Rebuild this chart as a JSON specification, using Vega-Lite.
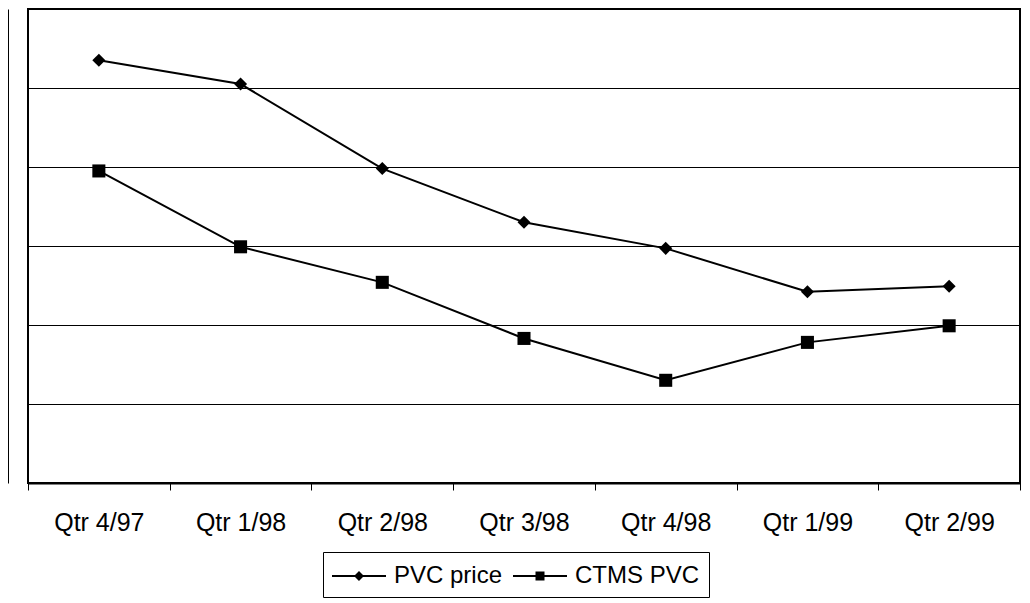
{
  "$schema": "https://vega.github.io/schema/vega-lite/v6.json",
  "width": 992,
  "height": 474,
  "autosize": {"type": "none"},
  "padding": {"left": 28, "top": 9, "right": 10, "bottom": 120},
  "background": "white",
  "config": {
    "view": {"stroke": "black", "strokeWidth": 2},
    "font": "Liberation Sans"
  },
  "data": {
    "values": [
      {"quarter": "Qtr 4/97", "series": "PVC price", "value": 53.5},
      {"quarter": "Qtr 1/98", "series": "PVC price", "value": 50.5},
      {"quarter": "Qtr 2/98", "series": "PVC price", "value": 39.8},
      {"quarter": "Qtr 3/98", "series": "PVC price", "value": 33.0},
      {"quarter": "Qtr 4/98", "series": "PVC price", "value": 29.7},
      {"quarter": "Qtr 1/99", "series": "PVC price", "value": 24.2},
      {"quarter": "Qtr 2/99", "series": "PVC price", "value": 24.9},
      {"quarter": "Qtr 4/97", "series": "CTMS PVC", "value": 39.5},
      {"quarter": "Qtr 1/98", "series": "CTMS PVC", "value": 29.9},
      {"quarter": "Qtr 2/98", "series": "CTMS PVC", "value": 25.4},
      {"quarter": "Qtr 3/98", "series": "CTMS PVC", "value": 18.3},
      {"quarter": "Qtr 4/98", "series": "CTMS PVC", "value": 13.0},
      {"quarter": "Qtr 1/99", "series": "CTMS PVC", "value": 17.8},
      {"quarter": "Qtr 2/99", "series": "CTMS PVC", "value": 19.9}
    ]
  },
  "encoding": {
    "x": {
      "field": "quarter",
      "type": "ordinal",
      "sort": null,
      "scale": {"type": "band", "paddingInner": 0, "paddingOuter": 0},
      "axis": {
        "title": null,
        "tickBand": "extent",
        "labelAngle": 0,
        "labelFontSize": 25,
        "labelColor": "black",
        "labelPadding": 20,
        "tickSize": 7,
        "tickColor": "black",
        "tickWidth": 1,
        "domainColor": "black",
        "domainWidth": 2,
        "grid": false
      }
    },
    "y": {
      "field": "value",
      "type": "quantitative",
      "scale": {"domain": [0, 60], "nice": false},
      "axis": {
        "title": null,
        "labels": false,
        "ticks": false,
        "domain": true,
        "domainColor": "black",
        "domainWidth": 1,
        "offset": 20,
        "grid": true,
        "gridColor": "black",
        "gridWidth": 1,
        "values": [10, 20, 30, 40, 50]
      }
    }
  },
  "layer": [
    {
      "mark": {"type": "line", "color": "black", "strokeWidth": 2},
      "encoding": {"detail": {"field": "series"}}
    },
    {
      "mark": {"type": "point", "filled": true, "color": "black", "opacity": 1, "size": 170, "strokeWidth": 0},
      "encoding": {
        "shape": {
          "condition": {"test": "datum.series === 'PVC price'", "value": "diamond"},
          "value": "square"
        }
      }
    },
    {
      "mark": {"type": "point", "filled": true, "fill": "black", "stroke": "black", "strokeWidth": 0, "opacity": 0, "size": 900},
      "encoding": {
        "shape": {
          "field": "series",
          "type": "nominal",
          "scale": {
            "domain": ["PVC price", "CTMS PVC"],
            "range": [
              "M-1,-0.067H2.6V0.067H-1ZM0.8,-0.333L1.133,0L0.8,0.333L0.467,0Z",
              "M-1,-0.067H2.6V0.067H-1ZM0.5,-0.3H1.1V0.3H0.5Z"
            ]
          },
          "legend": {
            "title": null,
            "orient": "none",
            "legendX": 295,
            "legendY": 543,
            "direction": "horizontal",
            "strokeColor": "black",
            "padding": 9,
            "symbolSize": 900,
            "symbolStrokeWidth": 0,
            "symbolFillColor": "black",
            "symbolOpacity": 1,
            "labelOffset": 32,
            "columnPadding": 10,
            "labelFontSize": 24,
            "labelColor": "black"
          }
        }
      }
    }
  ]
}
